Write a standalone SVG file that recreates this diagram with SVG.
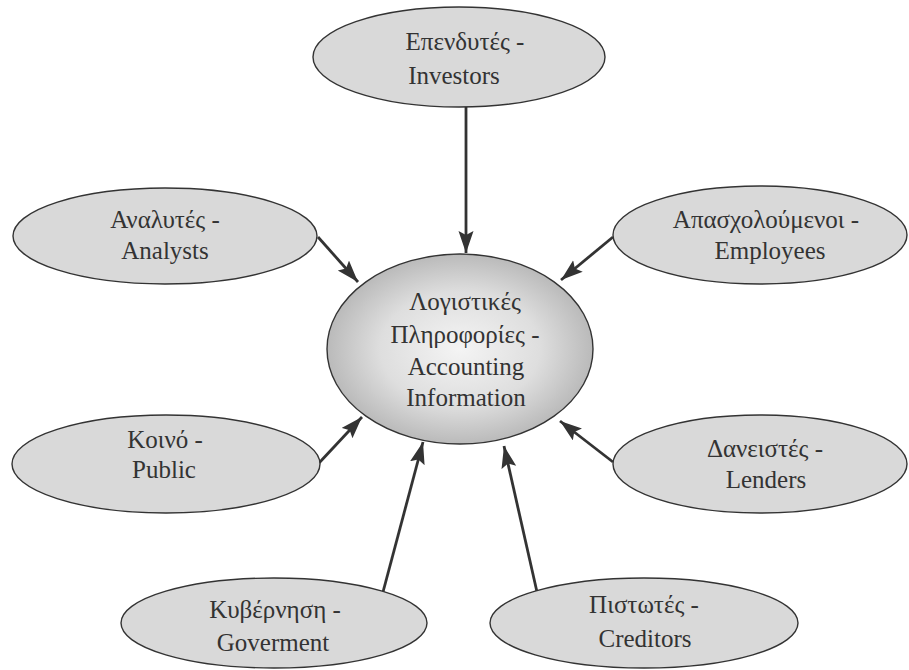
<svg xmlns="http://www.w3.org/2000/svg" width="909" height="670" viewBox="0 0 909 670">
<defs>
<radialGradient id="cg" cx="50%" cy="50%" r="50%">
<stop offset="0" stop-color="#f4f4f4"/>
<stop offset="0.6" stop-color="#dedede"/>
<stop offset="1" stop-color="#bababa"/>
</radialGradient>
<marker id="ah" markerUnits="userSpaceOnUse" markerWidth="24" markerHeight="16" refX="22" refY="7.5" orient="auto">
<path d="M0,0 L22,7.5 L0,15 L4,7.5 z" fill="#333"/>
</marker>
<style>
.n{fill:#d9d9d9;stroke:#333;stroke-width:1.4}
.c{fill:url(#cg);stroke:#333;stroke-width:1.4}
.t{font-family:'Liberation Serif','Times New Roman',serif;font-size:25px;fill:#333;text-anchor:middle}
.e{stroke:#333;stroke-width:2.8;fill:none;marker-end:url(#ah)}
</style>
</defs>
<rect width="909" height="670" fill="#fff"/>
<g id="connectors">
<line class="e" x1="466" y1="107" x2="466" y2="253"/>
<line class="e" x1="318" y1="237" x2="358" y2="282"/>
<line class="e" x1="613" y1="237" x2="561" y2="280"/>
<line class="e" x1="319" y1="463" x2="362" y2="417"/>
<line class="e" x1="613" y1="462" x2="560" y2="421"/>
<line class="e" x1="383" y1="592" x2="423" y2="442"/>
<line class="e" x1="537" y1="592" x2="504" y2="446"/>
</g>
<g id="center">
<ellipse class="c" cx="460" cy="349" rx="133" ry="95"/>
<text class="t" x="465" y="310">Λογιστικές</text>
<text class="t" x="465" y="343">Πληροφορίες -</text>
<text class="t" x="466" y="375">Accounting</text>
<text class="t" x="466" y="406">Information</text>
</g>
<g id="investors">
<ellipse class="n" cx="459" cy="57" rx="146" ry="50"/>
<text class="t" x="465" y="50">Επενδυτές -</text>
<text class="t" x="454" y="84">Investors</text>
</g>
<g id="analysts">
<ellipse class="n" cx="165" cy="236" rx="152" ry="48"/>
<text class="t" x="165" y="228">Αναλυτές -</text>
<text class="t" x="165" y="259">Analysts</text>
</g>
<g id="employees">
<ellipse class="n" cx="760" cy="235" rx="147" ry="49"/>
<text class="t" x="766" y="228">Απασχολούμενοι -</text>
<text class="t" x="770" y="259">Employees</text>
</g>
<g id="public">
<ellipse class="n" cx="166" cy="464" rx="154" ry="49"/>
<text class="t" x="165" y="448">Κοινό -</text>
<text class="t" x="164" y="478">Public</text>
</g>
<g id="lenders">
<ellipse class="n" cx="760" cy="464" rx="147" ry="49"/>
<text class="t" x="765" y="457">Δανειστές -</text>
<text class="t" x="766" y="488">Lenders</text>
</g>
<g id="government">
<ellipse class="n" cx="274" cy="623" rx="153" ry="45"/>
<text class="t" x="275" y="618">Κυβέρνηση -</text>
<text class="t" x="273" y="651">Goverment</text>
</g>
<g id="creditors">
<ellipse class="n" cx="644" cy="623" rx="154" ry="45"/>
<text class="t" x="644" y="613">Πιστωτές -</text>
<text class="t" x="645" y="647">Creditors</text>
</g>
</svg>
